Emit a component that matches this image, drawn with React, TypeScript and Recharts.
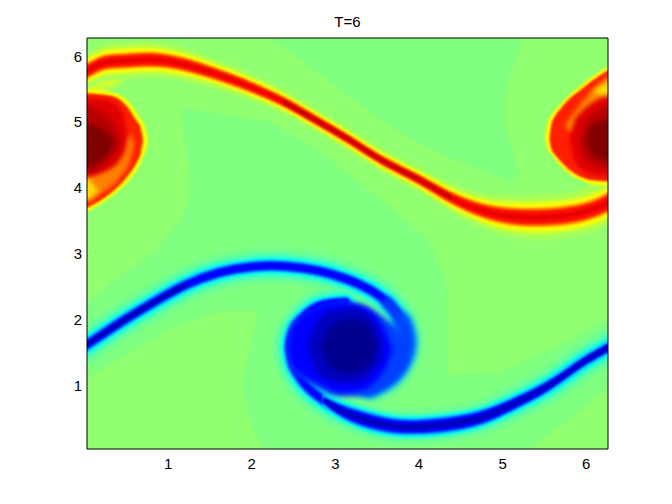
import { ComposedChart, Area, Line, XAxis, YAxis } from "recharts";

const tickValues = [1, 2, 3, 4, 5, 6];

// [x, low, high] outlines of the field levels
const fieldBase = [[-0.3, -0.3, 6.6], [6.6, -0.3, 6.6]];
const lightBand = [[-0.2, 5.2, 6.6], [1.11, 5.22, 6.6], [1.98, 5.05, 6.6], [2.19, 5.02, 6.3], [2.78, 4.59, 5.77], [3.57, 3.79, 5.0], [4.1, 3.22, 4.62], [4.32, 2.61, 4.49], [4.34, 1.15, 4.47], [4.97, 1.19, 4.17], [5.1, 1.27, 4.09], [5.2, 1.33, 4.24], [5.21, 1.34, 6.27], [5.57, 1.54, 6.6], [6.26, 2.0, 6.6], [6.6, 2.15, 6.6]];
const lightNotch = [[5.03, 4.9, 5.4], [5.06, 4.8, 5.62], [5.2, 4.24, 6.1], [5.25, 4.2, 6.3]];
const lightLeft = [[-0.2, 2.15, 5.4], [0.03, 2.26, 5.4], [0.43, 2.66, 5.4], [0.83, 3.02, 5.4], [1.14, 3.48, 5.4], [1.15, 3.49, 5.25], [1.26, 3.83, 4.18]];
const lightBottom = [[-0.2, -0.3, 1.0], [0.03, -0.3, 1.12], [0.55, -0.3, 1.5], [1.02, -0.3, 1.85], [1.59, -0.3, 2.12], [1.88, -0.3, 2.13], [1.89, 1.04, 2.13], [2.07, 2.1, 2.12]];
const lightLobe = [[1.88, -0.3, 1.04], [1.99, -0.3, 0.43], [2.13, -0.3, 0.02]];
const lightCorner = [[5.31, -0.3, 0.03], [5.78, -0.3, 0.48], [6.26, -0.3, 0.97], [6.6, -0.3, 1.2]];

// ridge lines as [x, y], the monotone ones with a half width at each point
const redRidge = [[-0.1, 5.7], [0.03, 5.78], [0.22, 5.9], [0.43, 5.93], [0.7, 5.95], [0.99, 5.93], [1.3, 5.84], [1.62, 5.71], [1.98, 5.54], [2.38, 5.31], [2.78, 5.02], [3.18, 4.72], [3.57, 4.41], [3.98, 4.14], [4.37, 3.86], [4.77, 3.65], [5.17, 3.56], [5.57, 3.56], [5.96, 3.63], [6.26, 3.78], [6.4, 3.9]];
const redHalfWidth = [0.17, 0.17, 0.17, 0.17, 0.17, 0.16, 0.15, 0.135, 0.125, 0.115, 0.11, 0.11, 0.11, 0.115, 0.135, 0.165, 0.2, 0.21, 0.21, 0.22, 0.22];
const redMiddle = redRidge.slice(9, 15);
const redLevels: [number, string][] = [
  [1.65, "#a8ff58"],
  [1.2, "#d8ff28"],
  [0.95, "#ffff00"],
  [0.72, "#ff9000"],
  [0.52, "#ff1000"],
  [0.2, "#e80000"],
];

const blueUpper = [[-0.3, 1.38], [0.03, 1.62], [0.4, 1.93], [0.8, 2.24], [1.2, 2.52], [1.6, 2.71], [2.0, 2.8], [2.4, 2.81], [2.8, 2.74], [3.14, 2.61], [3.4, 2.46], [3.62, 2.26], [3.8, 1.95], [3.85, 1.65], [3.8, 1.39], [3.65, 1.13], [3.41, 0.96]];
const blueLower = [[6.4, 1.7], [6.26, 1.57], [5.96, 1.35], [5.57, 1.01], [5.17, 0.74], [4.77, 0.52], [4.37, 0.41], [4.02, 0.37], [3.7, 0.38], [3.4, 0.46], [3.09, 0.6], [2.85, 0.78], [2.66, 0.98], [2.52, 1.24], [2.46, 1.5], [2.48, 1.77], [2.62, 2.03], [2.82, 2.21], [3.12, 2.26]];
const blueLeftCore = blueUpper.slice(0, 5);
const blueArmOuter = blueUpper.slice(12);
const blueArmInner = blueUpper.slice(11);

const blueTrough = [[2.85, 0.78], [3.09, 0.6], [3.4, 0.46], [3.7, 0.38], [4.02, 0.37], [4.37, 0.41], [4.77, 0.52], [5.17, 0.74], [5.57, 1.01], [5.96, 1.35], [6.26, 1.57], [6.4, 1.7]];
const blueHalfWidth = [0.05, 0.085, 0.1, 0.095, 0.095, 0.095, 0.09, 0.08, 0.07, 0.065, 0.065, 0.065];
const blueLevels: [number, string][] = [
  [1.75, "#10ffe8"],
  [1.35, "#00a0ff"],
  [1.0, "#0000ff"],
  [0.45, "#0000b8"],
];

// red vortices
const leftEdge = [[-0.2, 3.5, 5.5], [0.03, 3.64, 5.5], [0.31, 3.86, 5.46], [0.55, 4.14, 5.28], [0.66, 4.35, 5.07], [0.71, 4.5, 4.97], [0.74, 4.6, 4.85], [0.76, 4.72, 4.72]];
const leftRed = [[-0.2, 3.6, 5.46], [0.03, 3.7, 5.44], [0.31, 3.92, 5.4], [0.52, 4.19, 5.22], [0.62, 4.38, 5.02], [0.67, 4.52, 4.92], [0.7, 4.72, 4.72]];
const leftJoin = [[-0.2, 5.4, 5.8], [0.03, 5.42, 5.78], [0.2, 5.47, 5.8], [0.45, 5.6, 5.75]];
const leftOrange = [[-0.2, 3.79, 4.17], [0.03, 3.79, 4.17], [0.19, 3.91, 4.24], [0.43, 4.17, 4.52], [0.55, 4.44, 4.82], [0.59, 4.65, 4.65]];
const leftYellow = [[-0.2, 3.82, 4.14], [0.03, 3.82, 4.14], [0.1, 3.88, 4.06], [0.17, 3.95, 3.95]];
const leftInner = [[-0.2, 4.2, 5.37], [0.03, 4.2, 5.37], [0.25, 4.26, 5.35], [0.43, 4.44, 5.2], [0.49, 4.62, 4.97], [0.51, 4.8, 4.8]];
const leftMid = [[-0.2, 4.22, 5.25], [0.03, 4.22, 5.25], [0.25, 4.35, 5.1], [0.38, 4.55, 4.9], [0.43, 4.7, 4.7]];
const leftCore = [[-0.2, 4.3, 4.98], [0.03, 4.3, 4.98], [0.2, 4.42, 4.9], [0.3, 4.55, 4.8], [0.36, 4.68, 4.68]];

const rightEdge = [[5.51, 4.75, 4.75], [5.53, 4.62, 4.95], [5.59, 4.5, 5.12], [5.69, 4.34, 5.27], [5.81, 4.2, 5.43], [5.93, 4.12, 5.55], [6.05, 4.06, 5.67], [6.26, 4.03, 5.85], [6.5, 4.0, 6.05]];
const rightRed = [[5.56, 4.75, 4.75], [5.58, 4.6, 4.95], [5.63, 4.5, 5.1], [5.69, 4.41, 5.2], [5.81, 4.26, 5.37], [5.93, 4.17, 5.49], [6.05, 4.12, 5.61], [6.26, 4.1, 5.79], [6.5, 4.1, 5.95]];
const rightJoin = [[5.7, 3.7, 3.8], [6.0, 3.75, 3.98], [6.26, 3.85, 4.1], [6.5, 4.0, 4.2]];
const rightOrange = [[5.75, 4.95, 4.95], [5.83, 4.85, 5.1], [5.99, 5.12, 5.36], [6.26, 5.28, 5.69], [6.5, 5.28, 5.8]];
const rightYellow = [[6.08, 5.47, 5.47], [6.26, 5.4, 5.6], [6.5, 5.4, 5.7]];
const rightInner = [[5.8, 4.75, 4.75], [5.85, 4.45, 5.0], [5.93, 4.3, 5.15], [6.05, 4.21, 5.28], [6.26, 4.17, 5.39], [6.5, 4.17, 5.39]];
const rightMid = [[5.92, 4.72, 4.72], [5.98, 4.45, 5.0], [6.1, 4.35, 5.15], [6.26, 4.3, 5.25], [6.5, 4.3, 5.25]];
const rightCore = [[6.0, 4.72, 4.72], [6.05, 4.55, 4.92], [6.15, 4.45, 5.0], [6.26, 4.42, 5.05], [6.5, 4.42, 5.05]];

// blue vortex
const blobEdge = [[2.42, 1.59, 1.59], [2.46, 1.25, 1.9], [2.58, 1.12, 2.06], [2.82, 0.93, 2.2], [3.06, 0.83, 2.27], [3.3, 0.83, 2.24], [3.53, 0.93, 2.08], [3.72, 1.12, 1.88], [3.85, 1.3, 1.7]];
const blobBlue = [[2.44, 1.59, 1.59], [2.48, 1.3, 1.85], [2.58, 1.18, 2.03], [2.82, 1.01, 2.21], [3.06, 0.89, 2.26], [3.3, 0.92, 2.2], [3.5, 1.09, 2.03], [3.62, 1.32, 1.77], [3.68, 1.54, 1.54]];
const blobDeep = [[2.67, 1.59, 1.59], [2.76, 1.24, 1.93], [2.94, 1.06, 2.12], [3.18, 1.03, 2.18], [3.42, 1.16, 2.06], [3.56, 1.39, 1.7]];
const blobCore = [[2.84, 1.59, 1.59], [2.94, 1.27, 1.88], [3.12, 1.18, 2.0], [3.3, 1.21, 2.0], [3.44, 1.39, 1.82], [3.5, 1.59, 1.59]];

const toBand = (rows: number[][]) => rows.map(([x, lo, hi]) => ({ x, band: [lo, hi] }));
const toLine = (rows: number[][]) => rows.map(([x, y]) => ({ x, y }));
const ridgeBand = (ridge: number[][], half: number[], scale: number) =>
  ridge.map(([x, y], i) => ({ x, band: [y - half[i] * scale, y + half[i] * scale] }));

const fieldAreas: [number[][], string][] = [
  [fieldBase, "#80ff80"],
  [lightBand, "#90ff70"],
  [lightNotch, "#90ff70"],
  [lightLeft, "#90ff70"],
  [lightBottom, "#90ff70"],
  [lightLobe, "#90ff70"],
  [lightCorner, "#90ff70"],
];

const vortexRims: [number[][], string][] = [
  [leftEdge, "#ffff00"],
  [leftRed, "#ff2000"],
  [rightEdge, "#ffff00"],
  [rightRed, "#ff2000"],
];

const vortexFills: [number[][], string][] = [
  [leftOrange, "#ff8000"],
  [leftYellow, "#ffe000"],
  [leftInner, "#e00000"],
  [leftMid, "#b80000"],
  [leftCore, "#800000"],
  [rightOrange, "#ff9000"],
  [rightYellow, "#ffe000"],
  [rightInner, "#e00000"],
  [rightMid, "#b80000"],
  [rightCore, "#800000"],
  [blobEdge, "#0040ff"],
  [blobBlue, "#0000ff"],
  [blobDeep, "#0000c0"],
  [blobCore, "#000090"],
];

const joins: [number[][], string][] = [
  [leftJoin, "#d0ff30"],
  [rightJoin, "#e0ff20"],
];

const ridgeLines: [number[][], string, number, string][] = [
  [redMiddle, "#c00000", 3, "thin"],
  [blueUpper, "#70ff90", 36, "thin"],
  [blueLower, "#70ff90", 36, "thin"],
  [blueUpper, "#50ffb0", 26, "thin"],
  [blueLower, "#50ffb0", 26, "thin"],
  [blueUpper, "#10ffe8", 18, "thin"],
  [blueLower, "#10ffe8", 18, "thin"],
  [blueUpper, "#00a0ff", 12, "thin"],
  [blueLower, "#00a0ff", 12, "thin"],
  [blueUpper, "#0000ff", 8, "thin"],
  [blueLower, "#0000ff", 8, "thin"],
  [blueArmOuter, "#0070ff", 20, "soft"],
  [blueArmInner, "#0040ff", 11, "soft"],
  [blueLeftCore, "#0000a0", 3, "thin"],
];

const axisFont = { fontFamily: "Liberation Sans, Arial, sans-serif", fontSize: 15, fill: "#000" };

export default function App() {
  let z = 100;
  return (
    <div style={{ position: "absolute", left: 0, top: 0, width: 672, height: 504, background: "#fff" }}>
      <style>{`.thin .recharts-line-curve{filter:blur(1px)}.soft .recharts-line-curve{filter:blur(3px)}.field .recharts-area-area{filter:blur(1px)}.ridge .recharts-area-area{filter:blur(1.2px)}.vortex .recharts-area-area{filter:blur(2.4px)}`}</style>
      <ComposedChart width={672} height={504} margin={{ top: 37, right: 63, bottom: 25, left: 0 }}>
        <XAxis dataKey="x" type="number" domain={[0.03, 6.26]} ticks={tickValues} allowDataOverflow height={30} tickLine={false} tickSize={0} tickMargin={9} tick={axisFont} fontSize={15} axisLine={{ stroke: "#000" }} />
        <YAxis type="number" domain={[0.03, 6.28]} ticks={tickValues} allowDataOverflow width={87} tickLine={false} tickSize={0} tickMargin={5} tick={axisFont} fontSize={15} axisLine={{ stroke: "#000" }} />
        <XAxis xAxisId="top" orientation="top" type="number" domain={[0.03, 6.26]} height={1} tick={false} tickLine={false} axisLine={{ stroke: "#000" }} label={{ value: "T=6", position: "top", offset: 10, style: axisFont }} />
        <YAxis yAxisId="right" orientation="right" type="number" domain={[0.03, 6.28]} width={1} tick={false} tickLine={false} axisLine={{ stroke: "#000" }} />
        {fieldAreas.map(([rows, color], i) => (
          <Area key={"f" + i} className="field" data={toBand(rows)} dataKey="band" type="linear" fill={color} fillOpacity={1} stroke="none" dot={false} activeDot={false} isAnimationActive={false} zIndex={z++} />
        ))}
        {joins.map(([rows, color], i) => (
          <Area key={"j" + i} className="vortex" data={toBand(rows)} dataKey="band" type="monotone" fill={color} fillOpacity={1} stroke="none" dot={false} activeDot={false} isAnimationActive={false} zIndex={z++} />
        ))}
        {redLevels.map(([scale, color], i) => (
          <Area key={"r" + i} className="ridge" data={ridgeBand(redRidge, redHalfWidth, scale)} dataKey="band" type="natural" fill={color} fillOpacity={1} stroke="none" dot={false} activeDot={false} isAnimationActive={false} zIndex={z++} />
        ))}
        {ridgeLines.map(([rows, color, w, cls], i) => (
          <Line key={"l" + i} className={cls} data={toLine(rows)} dataKey="y" type="natural" stroke={color} strokeWidth={w} strokeLinecap="round" dot={false} activeDot={false} isAnimationActive={false} zIndex={z++} />
        ))}
        {blueLevels.map(([scale, color], i) => (
          <Area key={"b" + i} className="ridge" data={ridgeBand(blueTrough, blueHalfWidth, scale)} dataKey="band" type="natural" fill={color} fillOpacity={1} stroke="none" dot={false} activeDot={false} isAnimationActive={false} zIndex={z++} />
        ))}
        {vortexRims.map(([rows, color], i) => (
          <Area key={"e" + i} className="ridge" data={toBand(rows)} dataKey="band" type="monotone" fill={color} fillOpacity={1} stroke="none" dot={false} activeDot={false} isAnimationActive={false} zIndex={z++} />
        ))}
        {vortexFills.map(([rows, color], i) => (
          <Area key={"v" + i} className="vortex" data={toBand(rows)} dataKey="band" type="monotone" fill={color} fillOpacity={1} stroke="none" dot={false} activeDot={false} isAnimationActive={false} zIndex={z++} />
        ))}
      </ComposedChart>
    </div>
  );
}
